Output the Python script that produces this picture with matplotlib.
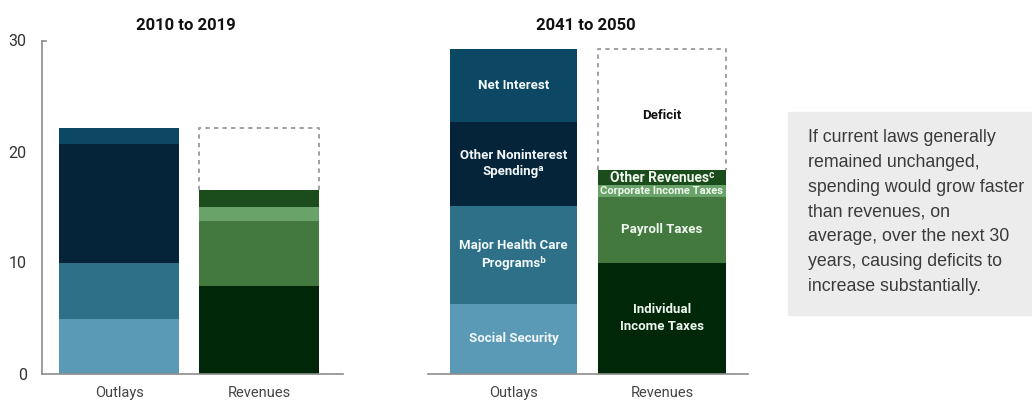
import matplotlib
matplotlib.use("Agg")
import matplotlib.pyplot as plt

# Percentage of GDP, averages over each period
categories = ["Outlays", "Revenues"]
periods = ["2010 to 2019", "2041 to 2050"]

outlay_names = ["Social Security", "Major Health Care\nPrograms\u1d47",
                "Other Noninterest\nSpending\u1d43", "Net Interest"]
outlays_2010 = [4.9, 5.1, 10.7, 1.4]
outlays_2041 = [6.3, 8.8, 7.6, 6.5]

revenue_names = ["Individual\nIncome Taxes", "Payroll Taxes",
                 "Corporate Income Taxes", "Other Revenues\u1d9c"]
revenues_2010 = [7.9, 5.8, 1.3, 1.5]
revenues_2041 = [10.0, 5.9, 1.1, 1.3]

y_ticks = [0, 10, 20, 30]

outlay_colors = ["#5b9ab6", "#2d7088", "#05243a", "#0c4763"]
revenue_colors = ["#002808", "#43793f", "#6aa36a", "#1b4c1c"]

note = ("If current laws generally\nremained unchanged,\n"
        "spending would grow faster\nthan revenues, on\n"
        "average, over the next 30\nyears, causing deficits to\n"
        "increase substantially.")

FAM = ["Roboto", "DejaVu Sans"]

W, H = 1032, 403
fig = plt.figure(figsize=(W / 100, H / 100), dpi=100)


def px_axes(x0, x1, y_top, y_bot):
    return fig.add_axes([x0 / W, (H - y_bot) / H, (x1 - x0) / W, (y_bot - y_top) / H])


def draw_panel(ax, outlays, revenues, labelled, xlim, show_y):
    width = 0.86
    bottom = 0.0
    for i, (v, c) in enumerate(zip(outlays, outlay_colors)):
        ax.bar(0, v, width, bottom=bottom, color=c, linewidth=0, zorder=2)
        if labelled:
            ax.text(0, bottom + v / 2, outlay_names[i], ha="center", va="center",
                    color="#f2f8fa", fontsize=9.5, fontweight="bold", family=FAM,
                    linespacing=1.35, zorder=3)
        bottom += v
    total_out = bottom

    bottom = 0.0
    for i, (v, c) in enumerate(zip(revenues, revenue_colors)):
        ax.bar(1, v, width, bottom=bottom, color=c, linewidth=0, zorder=2)
        if labelled:
            fs = 8.0 if i == 2 else (10 if i == 3 else 9.5)
            ax.text(1, bottom + v / 2, revenue_names[i], ha="center", va="center",
                    color="#eef6ee", fontsize=fs, fontweight="bold", family=FAM,
                    linespacing=1.35, zorder=3)
        bottom += v
    total_rev = bottom

    # deficit outline: three dashed sides standing on the revenue stack
    x_l, x_r = 1 - width / 2, 1 + width / 2
    ax.plot([x_l, x_l, x_r, x_r], [total_rev, total_out, total_out, total_rev],
            color="#a0a0a0", lw=1.4, linestyle=(0, (2.2, 2.2)), zorder=1)
    if labelled:
        ax.text(1, (total_out + total_rev) / 2 - 0.5, "Deficit", ha="center",
                va="center", color="#111111", fontsize=9.5, fontweight="bold",
                family=FAM)

    ax.set_xlim(*xlim)
    ax.set_ylim(0, 30)
    ax.set_xticks([0, 1])
    ax.set_xticklabels(categories, fontsize=10.5, color="#444444", family=FAM)
    ax.tick_params(axis="x", length=0, pad=9)
    for s in ["top", "right"]:
        ax.spines[s].set_visible(False)
    ax.spines["bottom"].set_color("#8c8c8c")
    ax.spines["bottom"].set_linewidth(1.2)
    if show_y:
        ax.spines["left"].set_color("#8c8c8c")
        ax.spines["left"].set_linewidth(1.2)
        ax.set_yticks(y_ticks)
        ax.set_yticklabels([str(t) for t in y_ticks], fontsize=11.5, color="#333333",
                           family=FAM)
        ax.tick_params(axis="y", length=0, pad=11)
        ax.plot([0, 0.012], [1, 1], transform=ax.transAxes, color="#8c8c8c",
                lw=1.2, clip_on=False)
    else:
        ax.spines["left"].set_visible(False)
        ax.set_yticks([])


ax1 = px_axes(42, 343, 40.5, 373.5)
draw_panel(ax1, outlays_2010, revenues_2010, False, (-0.55, 1.60), True)

ax2 = px_axes(428, 748, 40.5, 373.5)
draw_panel(ax2, outlays_2041, revenues_2041, True, (-0.575, 1.58), False)

# period titles
for xc, title in zip([186, 586], periods):
    fig.text(xc / W, (H - 25) / H, title, ha="center", va="center", fontsize=12,
             fontweight="bold", color="#111111", family=FAM)

# note box
fig.patches.append(plt.Rectangle((788 / W, (H - 315) / H), (W - 788) / W, 203 / H,
                                 transform=fig.transFigure, color="#ececec", zorder=0))
fig.text(808 / W, (H - 129) / H, note, ha="left", va="top", fontsize=12.8,
         color="#3a3a3a", family="Liberation Sans", linespacing=1.6)

fig.savefig("out.png", dpi=100)
